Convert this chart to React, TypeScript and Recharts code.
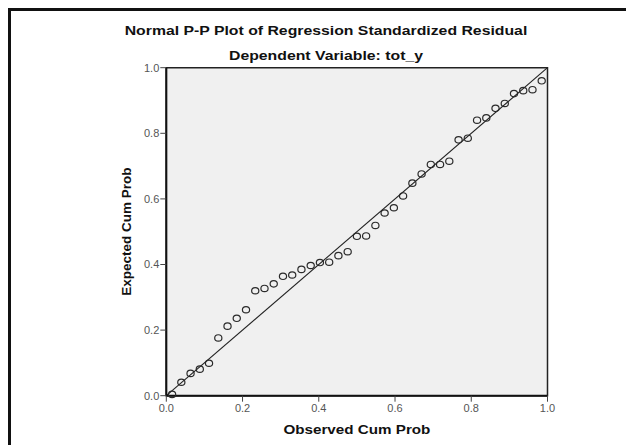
import React from "react";
import {
  ScatterChart,
  Scatter,
  XAxis,
  YAxis,
  CartesianGrid,
  ReferenceLine,
  ReferenceArea,
  Label,
} from "recharts";

// observed cumulative probability (x) for the 41 residuals
const observed = [
  0.0152, 0.0394, 0.0636, 0.0879, 0.1121, 0.1364, 0.1606, 0.1848, 0.2091,
  0.2333, 0.2576, 0.2818, 0.3061, 0.3303, 0.3545, 0.3788, 0.403, 0.4273,
  0.4515, 0.4758, 0.5, 0.5242, 0.5485, 0.5727, 0.597, 0.6212, 0.6455, 0.6697,
  0.6939, 0.7182, 0.7424, 0.7667, 0.7909, 0.8152, 0.8394, 0.8636, 0.8879,
  0.9121, 0.9364, 0.9606, 0.9848,
];

// expected cumulative probability (y)
const expected = [
  0.004, 0.041, 0.068, 0.081, 0.099, 0.176, 0.212, 0.236, 0.262, 0.32, 0.327,
  0.341, 0.364, 0.368, 0.385, 0.397, 0.406, 0.407, 0.427, 0.439, 0.486, 0.487,
  0.519, 0.557, 0.573, 0.609, 0.648, 0.676, 0.705, 0.705, 0.715, 0.78, 0.785,
  0.84, 0.847, 0.876, 0.891, 0.921, 0.93, 0.933, 0.96,
];

const ticks = [0, 0.2, 0.4, 0.6, 0.8, 1.0];

const title = "Normal P-P Plot of Regression Standardized Residual";
const subtitle = "Dependent Variable: tot_y";
const xLabel = "Observed Cum Prob";
const yLabel = "Expected Cum Prob";

const points = observed.map((x, i) => ({ x, y: expected[i] }));

const font = "'Liberation Sans', Arial, sans-serif";

const OpenCircle = (props: any) => {
  const { cx, cy } = props;
  if (cx == null || cy == null) return null;
  return (
    <ellipse cx={cx} cy={cy} rx={3.6} ry={3.2} fill="none" stroke="#2a2a2a" strokeWidth={1.2} />
  );
};

// the source picture is slightly stretched sideways, so the headings are too
const headingStyle: React.CSSProperties = {
  position: "absolute",
  left: 65,
  width: 500,
  textAlign: "center",
  fontWeight: "bold",
  fontSize: 13.5,
  fontFamily: font,
  color: "#111",
  transform: "scaleX(1.17)",
  transformOrigin: "center",
};

export default function App() {
  return (
    <div
      style={{
        position: "relative",
        width: 626,
        height: 437,
        boxSizing: "border-box",
        borderTop: "3px solid #111",
        borderLeft: "3px solid #111",
        background: "#fff",
      }}
    >
      <div style={{ ...headingStyle, top: 12 }}>{title}</div>
      <div style={{ ...headingStyle, top: 37 }}>{subtitle}</div>
      <div style={{ position: "absolute", left: 0, top: 0 }}>
        <ScatterChart
          width={623}
          height={434}
          margin={{ top: 56.7, right: 86.5, left: 0, bottom: 0 }}
        >
          <CartesianGrid
            horizontal={false}
            vertical={false}
            fill="#f0f0f0"
            stroke="none"
          />
          <ReferenceArea
            x1={0}
            x2={1}
            y1={0}
            y2={1}
            fill="none"
            stroke="#222"
            strokeWidth={1.5}
            fillOpacity={0}
          />
          <XAxis
            type="number"
            dataKey="x"
            domain={[0, 1]}
            ticks={ticks}
            tickFormatter={(v: number) => v.toFixed(1)}
            height={49.3}
            tickSize={6}
            tickMargin={2}
            axisLine={{ stroke: "#111", strokeWidth: 2 }}
            tickLine={{ stroke: "#444" }}
            tick={{ fill: "#555", fontSize: 11, fontFamily: font }}
            interval={0}
          >
            <Label
              content={({ viewBox }: any) => (
                <text
                  x={viewBox.x + viewBox.width / 2}
                  y={viewBox.y + 33.3}
                  textAnchor="middle"
                  dominantBaseline="central"
                  fontWeight="bold"
                  fontSize={13.5}
                  fontFamily={font}
                  fill="#111"
                  textLength={147}
                  lengthAdjust="spacingAndGlyphs"
                >
                  {xLabel}
                </text>
              )}
            />
          </XAxis>
          <YAxis
            type="number"
            dataKey="y"
            domain={[0, 1]}
            ticks={ticks}
            tickFormatter={(v: number) => v.toFixed(1)}
            width={155.3}
            tickSize={6}
            tickMargin={1}
            axisLine={{ stroke: "#111", strokeWidth: 2 }}
            tickLine={{ stroke: "#444" }}
            tick={{ fill: "#555", fontSize: 11, fontFamily: font }}
            interval={0}
          >
            <Label
              content={({ viewBox }: any) => {
                const cx = viewBox.x + viewBox.width - 40;
                const cy = viewBox.y + viewBox.height / 2;
                return (
                  <text
                    x={cx}
                    y={cy}
                    transform={`rotate(-90 ${cx} ${cy})`}
                    textAnchor="middle"
                    dominantBaseline="central"
                    fontWeight="bold"
                    fontSize={13.5}
                    fontFamily={font}
                    fill="#111"
                  >
                    {yLabel}
                  </text>
                );
              }}
            />
          </YAxis>
          <ReferenceLine
            segment={[
              { x: 0, y: 0 },
              { x: 1, y: 1 },
            ]}
            stroke="#222"
            strokeWidth={1.1}
          />
          <Scatter data={points} shape={OpenCircle} isAnimationActive={false} />
        </ScatterChart>
      </div>
    </div>
  );
}
